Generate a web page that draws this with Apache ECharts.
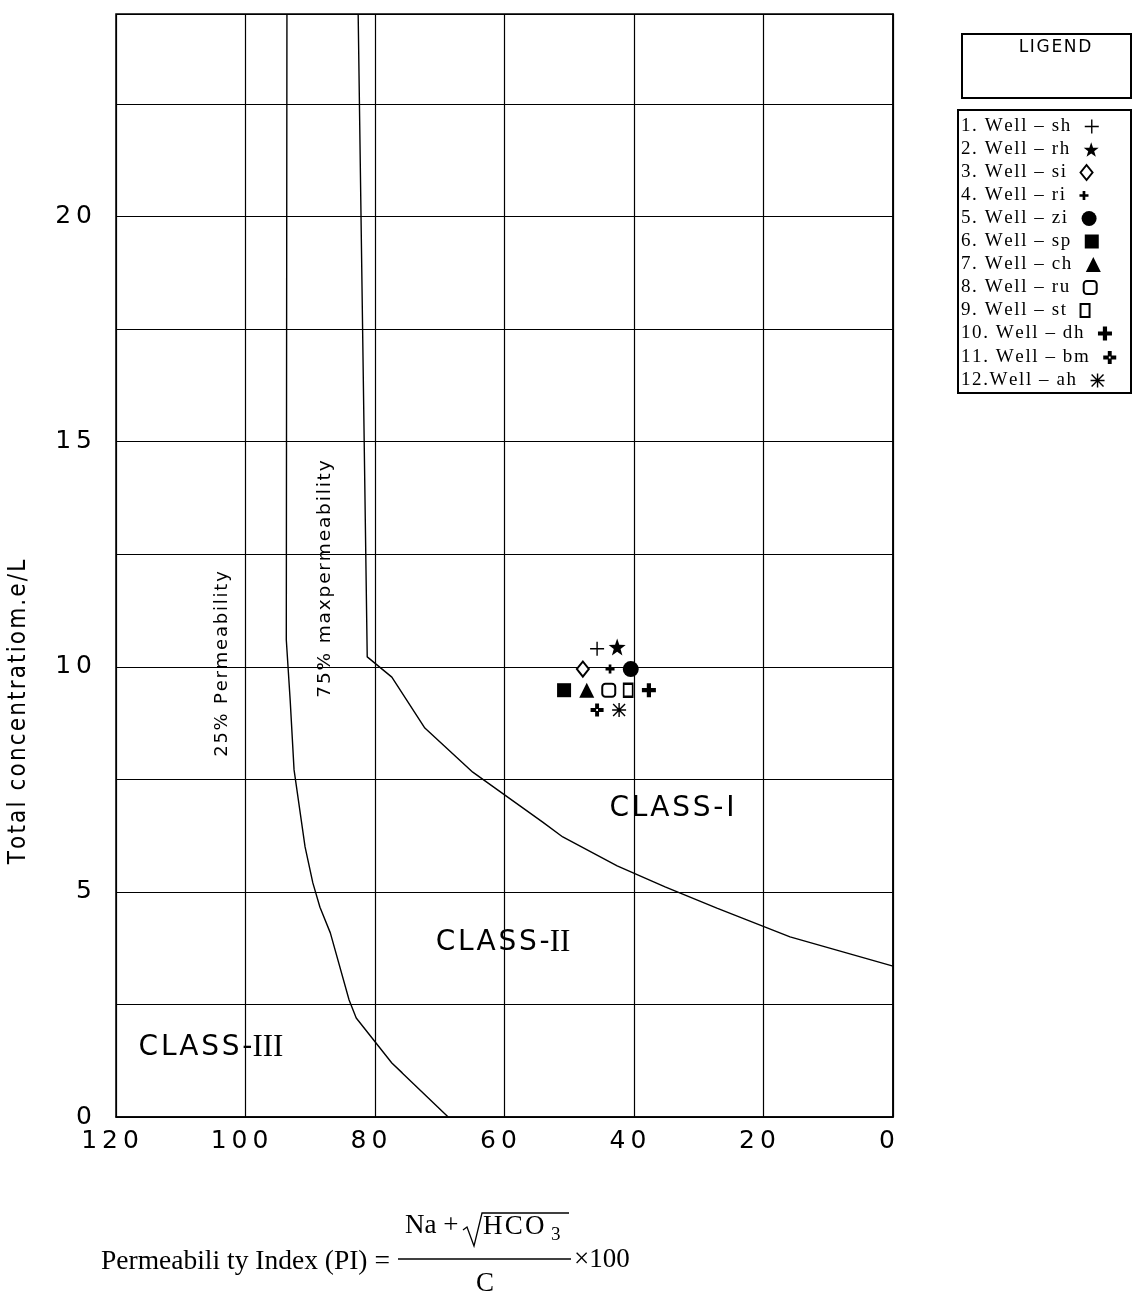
<!DOCTYPE html>
<html>
<head>
<meta charset="utf-8">
<script src="https://cdn.jsdelivr.net/npm/echarts@6/dist/echarts.min.js"></script>
<style>
  html, body { margin: 0; padding: 0; background: #fff; }
  #chart { width: 1136px; height: 1296px; }
</style>
</head>
<body>
<div id="chart"></div>
<script>
// ---------- data ----------
const wellNames = [
  '1. Well \u2013 sh', '2. Well \u2013 rh', '3. Well \u2013 si', '4. Well \u2013 ri',
  '5. Well \u2013 zi', '6. Well \u2013 sp', '7. Well \u2013 ch', '8. Well \u2013 ru',
  '9. Well \u2013 st', '10. Well \u2013 dh', '11. Well \u2013 bm', '12.Well \u2013 ah'
];
const wellPI   = [45.7, 42.6, 47.9, 43.7, 40.5, 50.8, 47.3, 43.9, 40.9, 37.7, 45.7, 42.3];
const wellConc = [10.40, 10.44, 9.95, 9.95, 9.95, 9.48, 9.48, 9.48, 9.48, 9.48, 9.04, 9.04];

// 25% permeability boundary (PI, total concentration)
const perm25PI   = [93.6, 93.7, 93.1, 92.5, 90.8, 89.6, 88.5, 86.9, 84.0, 82.9, 77.4, 75.8, 68.7];
const perm25Conc = [24.5, 10.6, 9.26, 7.71, 6.0, 5.2, 4.66, 4.09, 2.6, 2.2, 1.2, 0.98, 0];
// 75% max permeability boundary
const perm75PI   = [82.6, 81.2, 77.4, 72.3, 64.9, 54.1, 51.0, 42.6, 35.2, 27.2, 15.9, 0];
const perm75Conc = [24.5, 10.22, 9.77, 8.64, 7.66, 6.55, 6.22, 5.58, 5.11, 4.64, 4.00, 3.35];

const xTicks = [0, 20, 40, 60, 80, 100, 120];
const yLabelTicks = [0, 5, 10, 15, 20];

// ---------- symbols ----------
const P = {
  thinPlus: 'path://M9,0H11V20H9Z M0,9H20V11H0Z',
  star: 'path://M10,0L12.35,6.76L19.51,6.91L13.8,11.24L15.88,18.09L10,14L4.12,18.09L6.2,11.24L0.49,6.91L7.65,6.76Z',
  smallCross: 'path://M7,0H13V20H7Z M0,7H20V13H0Z',
  boldPlus: 'path://M7,0H13V20H7Z M0,7H20V13H0Z',
  hollowCross: 'path://M7,0H13V7H20V13H13V20H7V13H0V7H7Z M8.6,8.6V11.4H11.4V8.6Z',
  asterisk: 'path://M9,0H11V20H9Z M0,9H20V11H0Z M2.21,0.79L19.21,17.79L17.79,19.21L0.79,2.21Z M17.79,0.79L19.21,2.21L2.21,19.21L0.79,17.79Z'
};
const wellSymbols = [P.thinPlus, P.star, 'emptyDiamond', P.smallCross, 'circle', 'rect',
  'triangle', 'emptyRoundRect', 'emptyRect', P.boldPlus, P.hollowCross, P.asterisk];
const wellSizes = [14, 17, [12, 15], 9, 16, 14, 15, 13, [9, 13], 14, 13, 14];

const sp = (s, ch) => s.split('').join(ch);
const THIN = '\u2009', HAIR = '\u200A';

const series = [];
series.push({
  type: 'line', name: '25% Permeability', silent: true, showSymbol: false, symbol: 'none',
  data: perm25PI.map((v, i) => [v, perm25Conc[i]]),
  lineStyle: { color: '#000', width: 1.4 }, z: 3
});
series.push({
  type: 'line', name: '75% maxpermeability', silent: true, showSymbol: false, symbol: 'none',
  data: perm75PI.map((v, i) => [v, perm75Conc[i]]),
  lineStyle: { color: '#000', width: 1.4 }, z: 3
});
wellNames.forEach((n, i) => {
  const empty = typeof wellSymbols[i] === 'string' && wellSymbols[i].indexOf('empty') === 0;
  series.push({
    type: 'scatter', name: n,
    data: [[wellPI[i], wellConc[i]]],
    symbol: wellSymbols[i], symbolSize: wellSizes[i],
    itemStyle: { color: '#000', borderColor: '#000', borderWidth: empty ? 1.5 : 0, opacity: 1 },
    z: 5
  });
});

const serif = '"Liberation Serif", "Times New Roman", serif';
const sans = '"DejaVu Sans", Verdana, sans-serif';

// one legend block per well so every row is left-aligned with its symbol after the text
const legends = wellNames.map((n, i) => {
  const s = wellSizes[i];
  const w = Array.isArray(s) ? s[0] : s;
  const h = Array.isArray(s) ? s[1] : s;
  return {
    data: [n], orient: 'vertical', align: 'right',
    left: 961, top: Math.round(116.5 + i * 23.1),
    itemWidth: Math.min(w, 15), itemHeight: Math.min(h, 15), padding: 0,
    selectedMode: false,
    formatter: name => sp(name, HAIR) + '\u2002',
    textStyle: { fontFamily: serif, fontSize: 19, lineHeight: 19, color: '#000' }
  };
});

const centerText = (x, y, text, font, extra) => Object.assign({
  type: 'text', x: x, y: y, z: 10,
  style: { text: text, font: font, fill: '#000', align: 'center', verticalAlign: 'middle', textAlign: 'center', textVerticalAlign: 'middle' }
}, extra || {});
const leftText = (x, y, text, font) => ({
  type: 'text', x: x, y: y, z: 10,
  style: { text: text, font: font, fill: '#000', align: 'left', verticalAlign: 'middle', textAlign: 'left', textVerticalAlign: 'middle' }
});

const chart = echarts.init(document.getElementById('chart'));
chart.setOption({
  backgroundColor: '#fff',
  animation: false,
  grid: { left: 116, right: 243, top: 14, bottom: 179, show: true, borderColor: '#000', borderWidth: 1.5, containLabel: false },
  xAxis: {
    type: 'value', inverse: true, min: 0, max: 120, interval: 20,
    axisLine: { show: true, lineStyle: { color: '#000', width: 1.5 } },
    axisTick: { show: false },
    splitLine: { show: true, lineStyle: { color: '#000', width: 1.2 } },
    axisLabel: {
      margin: 12, color: '#000', fontFamily: sans, fontSize: 25, padding: [0, 12, 0, 0],
      formatter: v => xTicks.indexOf(v) >= 0 ? sp(String(v), THIN) : ''
    }
  },
  yAxis: {
    type: 'value', min: 0, max: 24.5, interval: 2.5,
    axisLine: { show: true, lineStyle: { color: '#000', width: 1.5 } },
    axisTick: { show: false },
    splitLine: { show: true, lineStyle: { color: '#000', width: 1.2 } },
    axisLabel: {
      margin: 24, color: '#000', fontFamily: sans, fontSize: 25,
      formatter: v => yLabelTicks.indexOf(v) >= 0 ? sp(String(v), THIN) : ''
    }
  },
  legend: legends,
  graphic: [
    { type: 'rect', shape: { x: 962, y: 34, width: 169, height: 64 }, style: { fill: '#fff', stroke: '#000', lineWidth: 2 } },
    centerText(1055, 48, sp('LIGEND', HAIR), '17px ' + sans),
    { type: 'rect', z: 1, shape: { x: 958, y: 110, width: 173, height: 283 }, style: { fill: 'none', stroke: '#000', lineWidth: 2 } },

    centerText(19, 712, sp('Total concentratiom.e/L', HAIR), '24px "DejaVu Sans Condensed", "Liberation Sans Narrow", sans-serif', { rotation: Math.PI / 2 }),

    centerText(222, 664, sp('25% Permeability', HAIR), '18px ' + sans, { rotation: Math.PI / 2 }),
    centerText(325, 579, sp('75% maxpermeability', HAIR), '18.5px ' + sans, { rotation: Math.PI / 2 }),

    centerText(672, 809, sp('CLASS-I', HAIR), '28px ' + sans),
    { type: 'text', x: 503, y: 943, z: 10, style: { text: '{a|' + sp('CLASS-', HAIR) + '}{b|II}', rich: { a: { font: '28px ' + sans, fill: '#000', color: '#000' }, b: { font: '31px ' + serif, fill: '#000', color: '#000' } }, align: 'center', verticalAlign: 'middle', textAlign: 'center', textVerticalAlign: 'middle' } },
    { type: 'text', x: 211, y: 1048, z: 10, style: { text: '{a|' + sp('CLASS-', HAIR) + '}{b|III}', rich: { a: { font: '28px ' + sans, fill: '#000', color: '#000' }, b: { font: '31px ' + serif, fill: '#000', color: '#000' } }, align: 'center', verticalAlign: 'middle', textAlign: 'center', textVerticalAlign: 'middle' } },

    leftText(101, 1262, 'Permeabili ty Index (PI) =', '27.5px ' + serif),
    { type: 'line', shape: { x1: 398, y1: 1259, x2: 571, y2: 1259 }, style: { stroke: '#000', lineWidth: 1.3 } },
    leftText(405, 1226, 'Na +', '27px ' + serif),
    { type: 'polyline', shape: { points: [[463, 1230], [467, 1227], [474, 1246], [482, 1213], [569, 1213]] }, style: { stroke: '#000', lineWidth: 1.3, fill: null } },
    leftText(483, 1227, sp('HCO', HAIR), '27px ' + serif),
    leftText(551, 1235, '3', '19px ' + serif),
    centerText(485, 1284, 'C', '27px ' + serif),
    leftText(574, 1260, '\u00d7100', '27px ' + serif)
  ],
  series: series
});
</script>
</body>
</html>
